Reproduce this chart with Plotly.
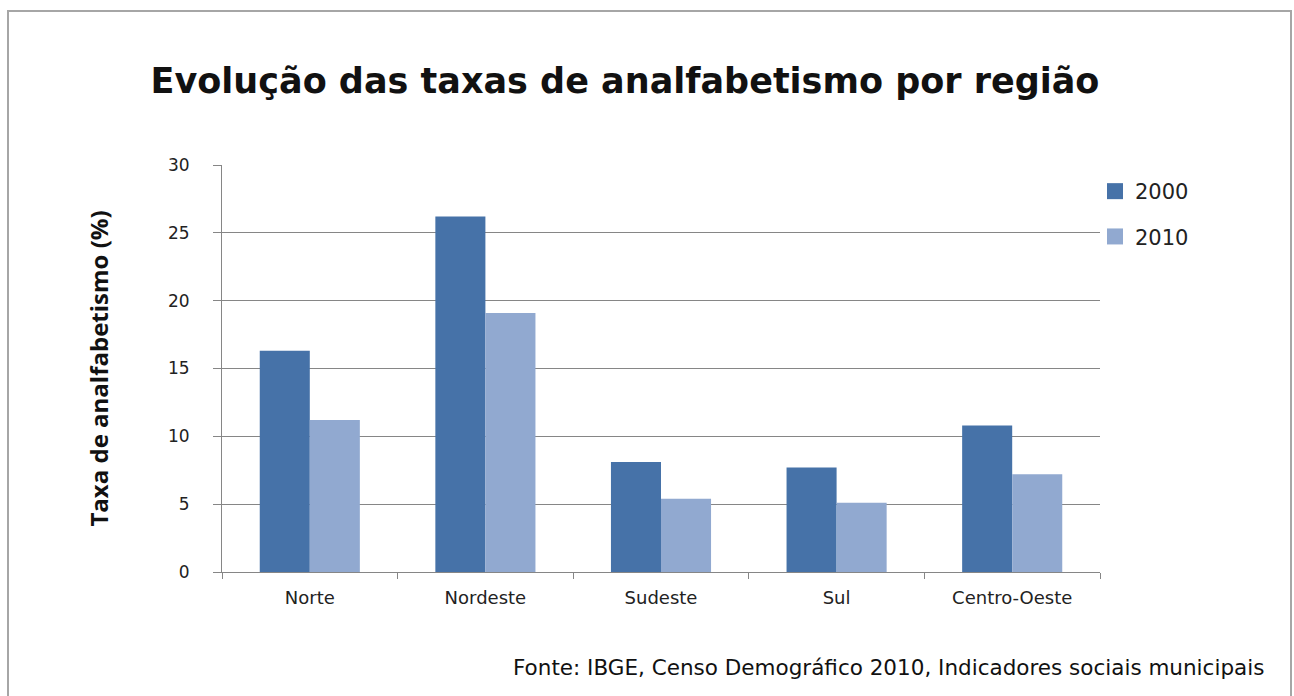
import plotly.graph_objects as go

regioes = ["Norte", "Nordeste", "Sudeste", "Sul", "Centro-Oeste"]
taxa_2000 = [16.3, 26.2, 8.1, 7.7, 10.8]
taxa_2010 = [11.2, 19.1, 5.4, 5.1, 7.2]
anos = ["2000", "2010"]
y_ticks = [0, 5, 10, 15, 20, 25, 30]

cor_2000 = "#4672a8"
cor_2010 = "#91a9d0"

W, H = 1294, 696
L, R, T, B = 222, 194, 165, 124
pw, ph = W - L - R, H - T - B

fig = go.Figure()
for nome, vals, cor in [(anos[0], taxa_2000, cor_2000), (anos[1], taxa_2010, cor_2010)]:
    fig.add_trace(go.Bar(x=regioes, y=vals, name=nome, marker=dict(color=cor, line=dict(width=0)),
                         showlegend=False))
    fig.add_trace(go.Scatter(x=[None], y=[None], mode="markers", name=nome, legendgroup=nome,
                             marker=dict(symbol="square", size=16, color=cor)))

def px_x(px):
    return (px - L) / pw

def px_y(py):
    return (H - B - py) / ph

fig.update_layout(
    width=W, height=H, autosize=False,
    margin=dict(l=L, r=R, t=T, b=B),
    paper_bgcolor="white", plot_bgcolor="white",
    barmode="group", bargap=0.43, bargroupgap=0,
    title=dict(text="<b>Evolução das taxas de analfabetismo por região</b>",
               x=625 / W, xanchor="center", y=1 - 81 / H, yanchor="middle",
               font=dict(family="DejaVu Sans", size=35, color="#111111")),
    font=dict(family="DejaVu Sans", color="#222222"),
    legend=dict(x=px_x(1095), y=px_y(171), xanchor="left", yanchor="top",
                font=dict(family="DejaVu Sans", size=21, color="#222222"), tracegroupgap=15,
                bgcolor="rgba(0,0,0,0)", itemclick=False),
    xaxis=dict(type="category", showline=True, linecolor="#868686", linewidth=1,
               ticks="outside", tickson="boundaries", ticklen=6, tickcolor="#868686",
               ticklabelstandoff=9,
               tickfont=dict(family="DejaVu Sans", size=18, color="#222222"), showgrid=False),
    yaxis=dict(range=[0, 30], tickvals=y_ticks, showline=True, linecolor="#868686", linewidth=1,
               ticks="outside", ticklen=8, tickcolor="#868686",
               gridcolor="#868686", gridwidth=1, zeroline=False,
               tickfont=dict(family="DejaVu Sans", size=17, color="#222222"), ticklabelstandoff=20,
               title=dict(text="<b>Taxa de analfabetismo (%)</b>", standoff=52,
                          font=dict(family="Open Sans", size=24, color="#111111"))),
    shapes=[dict(type="rect", xref="paper", yref="paper",
                 x0=px_x(8), x1=px_x(1291), y0=px_y(11), y1=px_y(710),
                 line=dict(color="#a6a6a6", width=2), fillcolor="rgba(0,0,0,0)", layer="below")],
    annotations=[dict(text="Fonte: IBGE, Censo Demográfico 2010, Indicadores sociais municipais",
                      xref="paper", yref="paper", x=px_x(1266), y=px_y(667),
                      xanchor="right", yanchor="middle", showarrow=False,
                      font=dict(family="DejaVu Sans", size=21.5, color="#111111"))],
)

fig.write_html("out.html")
